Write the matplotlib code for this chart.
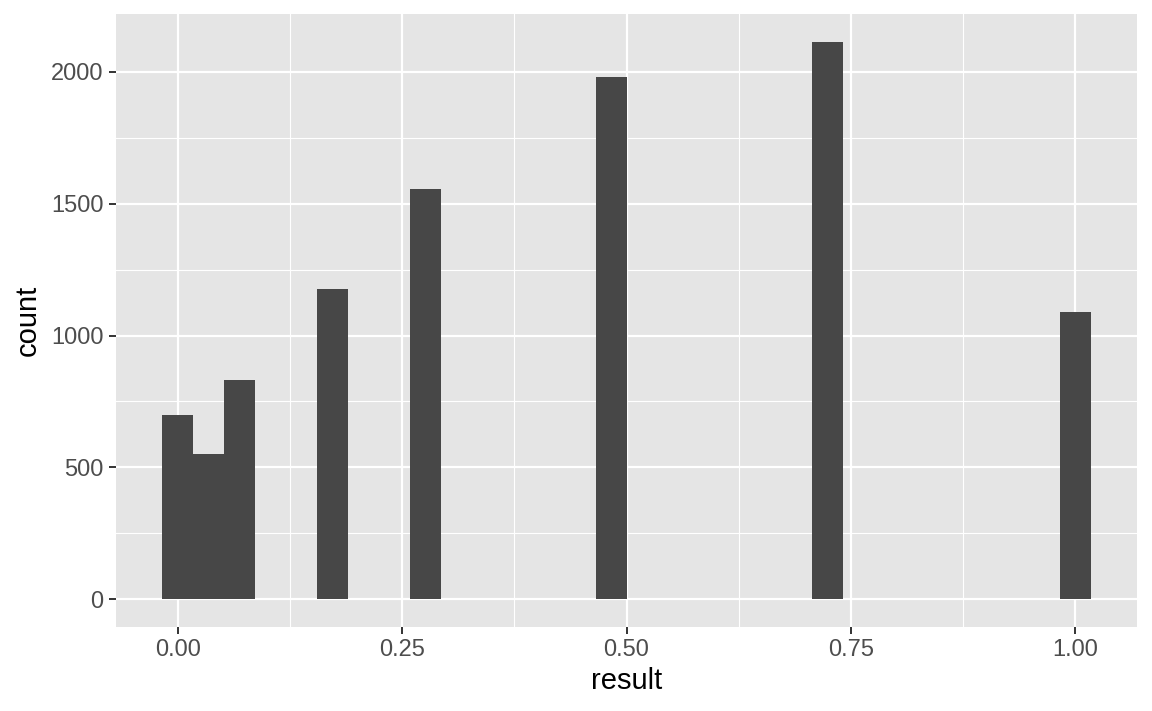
import numpy as np
import matplotlib.pyplot as plt

# ggplot-style histogram, 30 bins over [0, 1]
n_bins = 30
bin_index = [0, 1, 2, 5, 8, 14, 21, 29]
bin_count = [697, 549, 830, 1178, 1557, 1981, 2114, 1091]

x_ticks = [0.0, 0.25, 0.5, 0.75, 1.0]
x_ticklabels = ["0.00", "0.25", "0.50", "0.75", "1.00"]
y_ticks = [0, 500, 1000, 1500, 2000]

binwidth = 1.0 / (n_bins - 1)
counts = np.zeros(n_bins)
counts[bin_index] = bin_count
centers = np.arange(n_bins) * binwidth

plt.rcParams['font.family'] = ['Liberation Sans', 'DejaVu Sans']

fig = plt.figure(figsize=(11.52, 7.11), dpi=100)
ax = fig.add_axes([116 / 1152, 1 - 627 / 711, (1137 - 116) / 1152, (627 - 14) / 711])
ax.set_facecolor('#E5E5E5')

lo = centers[0] - binwidth / 2
hi = centers[-1] + binwidth / 2
pad = (hi - lo) * 0.05
ax.set_xlim(lo - pad, hi + pad)
ymax = counts.max()
ax.set_ylim(-ymax * 0.05, ymax * 1.05)

# grid: major and minor lines, white
for v in x_ticks:
    ax.axvline(v, color='white', lw=1.6, zorder=1)
for v in np.array(x_ticks[:-1]) + 0.125:
    ax.axvline(v, color='white', lw=0.8, zorder=1)
for v in y_ticks:
    ax.axhline(v, color='white', lw=1.6, zorder=1)
for v in np.array(y_ticks) + 250:
    ax.axhline(v, color='white', lw=0.8, zorder=1)

ax.bar(centers, counts, width=binwidth, color='#474747', edgecolor='none', zorder=2)

ax.set_xticks(x_ticks)
ax.set_xticklabels(x_ticklabels)
ax.set_yticks(y_ticks)
ax.tick_params(axis='both', colors='#333333', labelcolor='#4D4D4D', labelsize=17,
               length=5, width=1.4, pad=4)
for s in ax.spines.values():
    s.set_visible(False)

ax.set_xlabel('result', fontsize=21, color='black', labelpad=4)
ax.set_ylabel('count', fontsize=21, color='black', labelpad=7)

fig.savefig('out.png', dpi=100)
